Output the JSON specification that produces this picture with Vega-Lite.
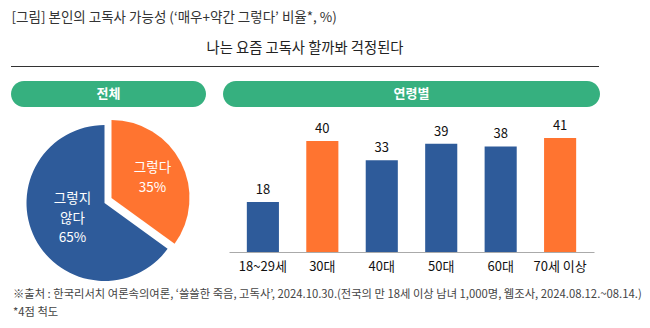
{
  "$schema": "https://vega.github.io/schema/vega-lite/v6.json",
  "padding": {"left": 10, "top": 11, "right": 5, "bottom": 0},
  "config": {
    "font": "Noto Sans CJK KR",
    "view": {"stroke": null},
    "title": {"font": "Noto Sans CJK KR"},
    "axis": {"labelFont": "Noto Sans CJK KR"}
  },
  "title": {"text": "[그림] 본인의 고독사 가능성 (‘매우+약간 그렇다’ 비율*, %)", "anchor": "start", "fontSize": 13.5, "fontWeight": "normal", "color": "#333333", "offset": 17, "dx": 1},
  "spacing": 14,
  "vconcat": [
    {
      "title": {"text": "나는 요즘 고독사 할까봐 걱정된다", "anchor": "middle", "fontSize": 14.3, "fontWeight": "normal", "color": "#222222", "offset": 10},
      "width": 588,
      "height": 1,
      "data": {"values": [{"start": 0, "end": 1}]},
      "mark": {"type": "rule", "color": "#333333", "strokeWidth": 1},
      "encoding": {
        "x": {"field": "start", "type": "quantitative", "scale": {"domain": [0, 1]}, "axis": null},
        "x2": {"field": "end"}
      }
    },
    {
      "spacing": 17,
      "title": {"text": ["※출처 : 한국리서치 여론속의여론, ‘쓸쓸한 죽음, 고독사’, 2024.10.30.(전국의 만 18세 이상 남녀 1,000명, 웹조사, 2024.08.12.~08.14.)", "*4점 척도"], "orient": "bottom", "anchor": "start", "fontSize": 11.3, "fontWeight": "normal", "color": "#444444", "lineHeight": 18, "offset": 8, "dx": 2},
      "hconcat": [
        {
          "spacing": 20,
          "bounds": "flush",
          "vconcat": [
            {
              "width": 195,
              "height": 26,
              "data": {"values": [{"label": "전체"}]},
              "layer": [
                {"mark": {"type": "rect", "color": "#36B07F", "cornerRadius": 13}, "encoding": {}},
                {"mark": {"type": "text", "color": "white", "fontSize": 13, "fontWeight": "bold"}, "encoding": {"text": {"field": "label"}}}
              ]
            },
            {
              "width": 195,
              "height": 152,
              "data": {"values": [
                {"label": "그렇다", "value": 35, "text": "그렇다\n35%", "order": 1},
                {"label": "그렇지 않다", "value": 65, "text": "그렇지\n않다\n65%", "order": 2}
              ]},
              "encoding": {
                "theta": {"field": "value", "type": "quantitative", "stack": true},
                "order": {"field": "order", "type": "quantitative"}
              },
              "layer": [
                {"mark": {"type": "arc", "radius": 78, "color": "#2E5B9A", "xOffset": -4},
                 "encoding": {"opacity": {"condition": {"test": "datum.label === '그렇지 않다'", "value": 1}, "value": 0}}},
                {"mark": {"type": "arc", "radius": 78, "color": "#FF7430", "xOffset": 3, "yOffset": -5},
                 "encoding": {"opacity": {"condition": {"test": "datum.label === '그렇다'", "value": 1}, "value": 0}}},
                {"mark": {"type": "text", "radius": 46, "color": "white", "fontSize": 13.5, "lineBreak": "\n", "lineHeight": 20, "xOffset": 3, "yOffset": -14},
                 "encoding": {"text": {"field": "text"}, "opacity": {"condition": {"test": "datum.label === '그렇다'", "value": 1}, "value": 0}}},
                {"mark": {"type": "text", "radius": 36, "color": "white", "fontSize": 13.5, "lineBreak": "\n", "lineHeight": 19.5, "xOffset": -4, "yOffset": -20},
                 "encoding": {"text": {"field": "text"}, "opacity": {"condition": {"test": "datum.label === '그렇지 않다'", "value": 1}, "value": 0}}}
              ]
            }
          ]
        },
        {
          "spacing": 20,
          "center": true,
          "bounds": "flush",
          "vconcat": [
            {
              "width": 377,
              "height": 26,
              "data": {"values": [{"label": "연령별"}]},
              "layer": [
                {"mark": {"type": "rect", "color": "#36B07F", "cornerRadius": 13}, "encoding": {}},
                {"mark": {"type": "text", "color": "white", "fontSize": 13, "fontWeight": "bold"}, "encoding": {"text": {"field": "label"}}}
              ]
            },
            {
              "width": 365,
              "height": 125,
              "data": {"values": [
                {"age": "18~29세", "value": 18},
                {"age": "30대", "value": 40},
                {"age": "40대", "value": 33},
                {"age": "50대", "value": 39},
                {"age": "60대", "value": 38},
                {"age": "70세 이상", "value": 41}
              ]},
              "encoding": {
                "x": {"field": "age", "type": "nominal", "sort": null, "scale": {"paddingInner": 0.46, "paddingOuter": 0.3},
                      "axis": {"title": null, "labelAngle": 0, "ticks": false, "domainColor": "#AAAAAA", "labelFontSize": 13, "labelColor": "#111111", "labelPadding": 8}},
                "y": {"field": "value", "type": "quantitative", "scale": {"domain": [0, 45]}, "axis": null}
              },
              "layer": [
                {"mark": {"type": "bar"},
                 "encoding": {"color": {"condition": {"test": "datum.age === '30대' || datum.age === '70세 이상'", "value": "#FF7430"}, "value": "#2E5B9A"}}},
                {"mark": {"type": "text", "baseline": "bottom", "dy": -5, "fontSize": 13, "color": "#111111"},
                 "encoding": {"text": {"field": "value", "type": "quantitative"}}}
              ]
            }
          ]
        }
      ]
    }
  ]
}
